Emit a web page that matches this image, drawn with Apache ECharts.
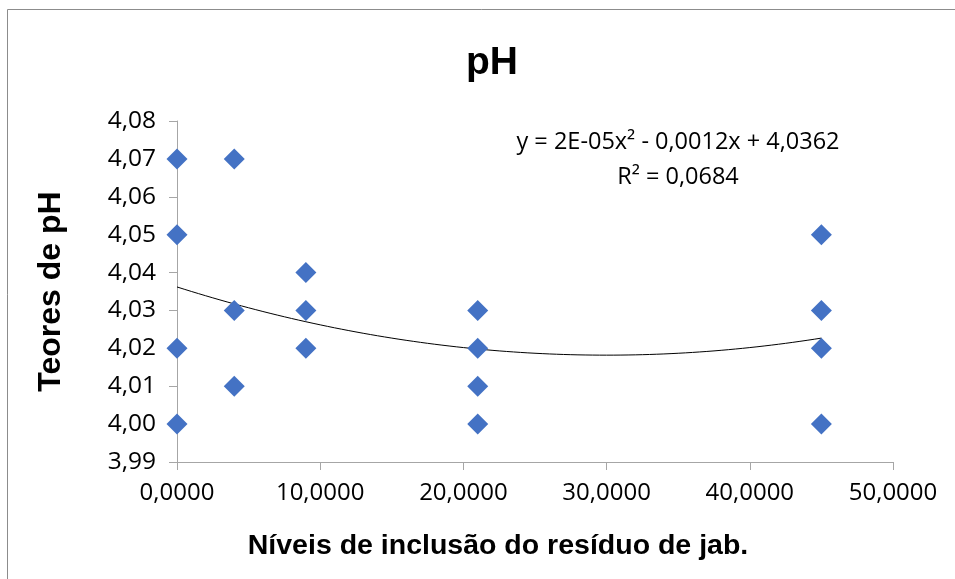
<!DOCTYPE html>
<html>
<head>
<meta charset="utf-8">
<script src="https://cdn.jsdelivr.net/npm/echarts@6/dist/echarts.min.js"></script>
<style>
html,body{margin:0;padding:0;background:#fff;}
#chart{width:955px;height:579px;}
</style>
</head>
<body>
<div id="chart"></div>
<script>
// Inclusion levels and measured pH values
const levels = [0, 0, 0, 0, 4, 4, 4, 9, 9, 9, 21, 21, 21, 21, 45, 45, 45, 45];
const phValues = [4.07, 4.05, 4.02, 4.00, 4.07, 4.03, 4.01, 4.04, 4.03, 4.02, 4.03, 4.02, 4.01, 4.00, 4.05, 4.03, 4.02, 4.00];

// Polynomial trendline coefficients (a*x^2 + b*x + c) and fit quality
const trendCoef = [2e-5, -0.0012, 4.0362];
const rSquared = 0.0684;
const trendRange = [0, 45];

const points = levels.map((x, i) => [x, phValues[i]]);

const trend = [];
for (let x = trendRange[0]; x <= trendRange[1] + 1e-9; x += 0.5) {
  trend.push([x, trendCoef[0] * x * x + trendCoef[1] * x + trendCoef[2]]);
}

const fmt = (v, d) => v.toFixed(d).replace('.', ',');

const chart = echarts.init(document.getElementById('chart'));
chart.setOption({
  animation: false,
  backgroundColor: '#fff',
  title: {
    text: 'pH',
    left: 487, top: 39,
    textAlign: 'center',
    textStyle: { fontFamily: 'Liberation Sans', fontWeight: 'bold', fontSize: 39, color: '#000' }
  },
  graphic: [
    { type: 'rect', shape: { x: 7.5, y: 9.5, width: 1000, height: 1000 },
      style: { fill: 'none', stroke: '#8c8c8c', lineWidth: 1 }, silent: true },
    { type: 'text', x: 678, y: 125,
      style: {
        text: 'y = 2E-05x² - 0,0012x + 4,0362\nR² = ' + fmt(rSquared, 4),
        align: 'center', verticalAlign: 'top',
        fontFamily: 'Open Sans', fontSize: 23.5, lineHeight: 35, fill: '#000'
      }
    }
  ],
  grid: { left: 177, right: 62, top: 121, bottom: 117 },
  xAxis: {
    type: 'value', min: 0, max: 50, interval: 10,
    name: 'Níveis de inclusão do resíduo de jab.',
    nameLocation: 'middle', nameGap: 70,
    nameTextStyle: { fontFamily: 'Liberation Sans', fontWeight: 'bold', fontSize: 28.5, color: '#000', padding: [0, 74, 0, 0] },
    axisLine: { show: true, lineStyle: { color: '#a6a6a6', width: 1 } },
    axisTick: { show: true, length: 8, lineStyle: { color: '#a6a6a6' } },
    axisLabel: {
      margin: 19, fontFamily: 'Open Sans', fontSize: 24, color: '#000',
      formatter: v => fmt(v, 4)
    },
    splitLine: { show: false }
  },
  yAxis: {
    type: 'value', min: 3.99, max: 4.08, interval: 0.01,
    name: 'Teores de pH',
    nameLocation: 'middle', nameGap: 110, nameRotate: 90,
    nameTextStyle: { fontFamily: 'Liberation Sans', fontWeight: 'bold', fontSize: 32, color: '#000' },
    axisLine: { show: true, lineStyle: { color: '#a6a6a6', width: 1 } },
    axisTick: { show: true, length: 8, lineStyle: { color: '#a6a6a6' } },
    axisLabel: {
      margin: 21, fontFamily: 'Open Sans', fontSize: 24.5, color: '#000',
      formatter: v => fmt(v, 2)
    },
    splitLine: { show: false }
  },
  series: [
    {
      type: 'line', data: trend, showSymbol: false, smooth: false,
      lineStyle: { color: '#000', width: 1 }, z: 2
    },
    {
      type: 'scatter', data: points, symbol: 'diamond', symbolSize: 21,
      itemStyle: { color: '#4472c4', opacity: 1 }, z: 3
    }
  ]
});
</script>
</body>
</html>
